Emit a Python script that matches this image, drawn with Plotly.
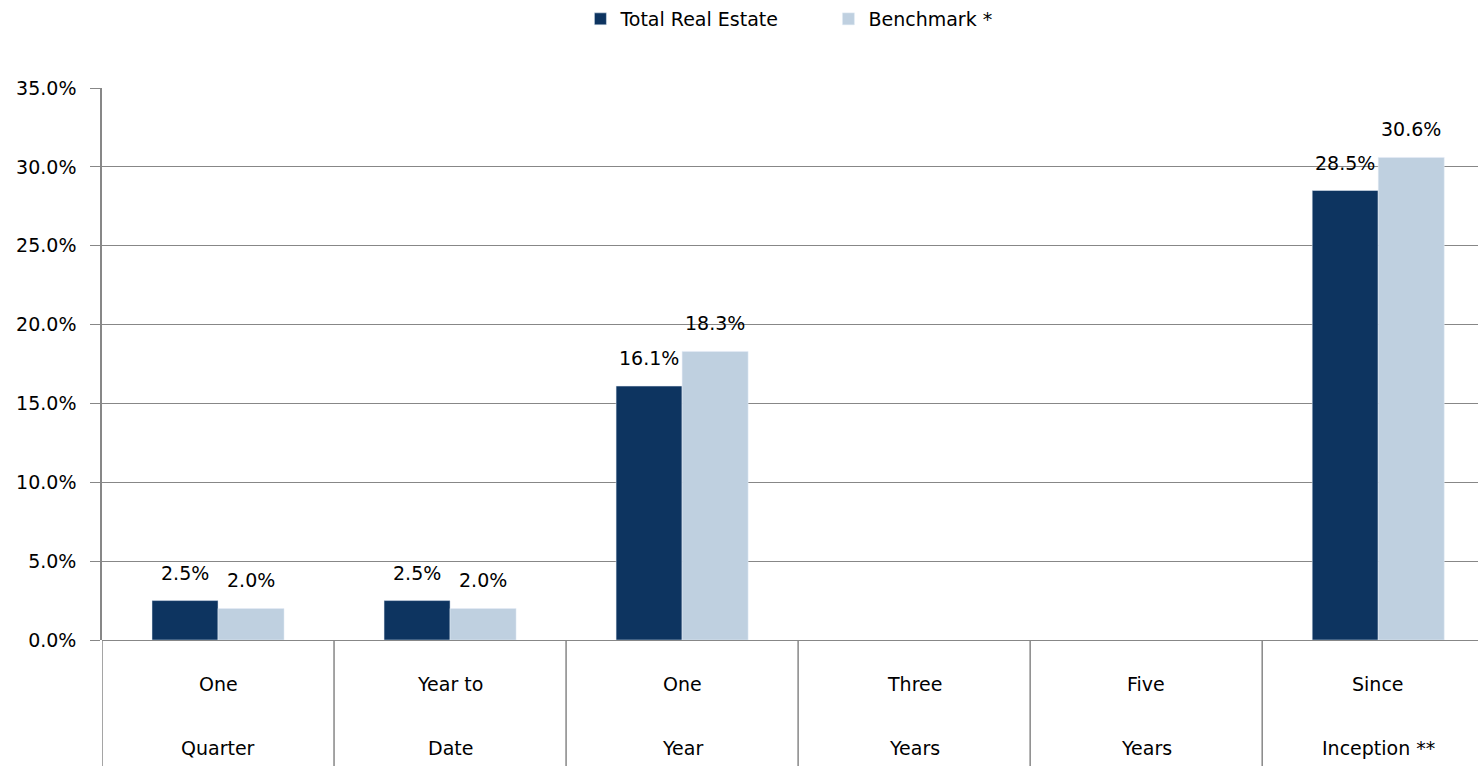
import plotly.graph_objects as go

categories = ["One<br>Quarter", "Year to<br>Date", "One<br>Year", "Three<br>Years", "Five<br>Years", "Since<br>Inception **"]
total_real_estate = [2.5, 2.5, 16.1, None, None, 28.5]
benchmark = [2.0, 2.0, 18.3, None, None, 30.6]
series_names = ["Total Real Estate", "Benchmark *"]
y_ticks = [0, 5, 10, 15, 20, 25, 30, 35]

DARK = "#0D3460"
LIGHT = "#BFD0E0"
GRID = "#878787"
FONT = "DejaVu Sans"
FS = 19

idx = list(range(len(categories)))

fig = go.Figure()
fig.add_trace(go.Bar(x=idx, y=total_real_estate, name=series_names[0], marker_color=DARK))
fig.add_trace(go.Bar(x=idx, y=benchmark, name=series_names[1], marker_color=LIGHT))

annotations = []
for vals, shift in ((total_real_estate, -33), (benchmark, 33)):
    for i, v in zip(idx, vals):
        if v is None:
            continue
        annotations.append(dict(x=i, y=v, xref="x", yref="y", text=f"{v:.1f}%",
                                showarrow=False, xshift=shift, yshift=28,
                                yanchor="middle", font=dict(size=FS, color="#000", family=FONT)))
for i, c in zip(idx, categories):
    l1, l2 = c.split("<br>")
    annotations.append(dict(x=i, y=-0.0797, xref="x", yref="paper", text=l1, showarrow=False,
                            yanchor="middle", font=dict(size=FS, color="#000", family=FONT)))
    annotations.append(dict(x=i, y=-0.1957, xref="x", yref="paper", text=l2, showarrow=False,
                            yanchor="middle", font=dict(size=FS, color="#000", family=FONT)))

shapes = []
for i in range(len(categories)):
    shapes.append(dict(type="line", xref="x", yref="paper", x0=i - 0.5, x1=i - 0.5,
                       y0=0, y1=-0.25, line=dict(color=GRID, width=1.5)))

fig.update_layout(
    width=1478, height=766,
    margin=dict(l=102, r=0, t=88, b=126, autoexpand=False),
    paper_bgcolor="white", plot_bgcolor="white",
    barmode="group", bargap=0.431, bargroupgap=0,
    font=dict(family=FONT, size=FS, color="#000"),
    legend=dict(orientation="h", xref="container", x=0.5605, xanchor="center",
                yref="container", y=1 - 19 / 766, yanchor="middle",
                font=dict(size=FS, family=FONT), itemwidth=30, traceorder="normal",
                entrywidth=203, entrywidthmode="pixels"),
    annotations=annotations, shapes=shapes,
    xaxis=dict(range=[-0.5, 5.43], tickvals=idx, showticklabels=False, showgrid=False,
               zeroline=False, showline=False, ticks="", automargin=False),
    yaxis=dict(range=[0, 35], tickvals=y_ticks, ticktext=[f"{t:.1f}%" for t in y_ticks],
               showgrid=True, gridcolor=GRID, gridwidth=1.4, zeroline=True, zerolinecolor=GRID,
               zerolinewidth=1.4, showline=True, linecolor=GRID, linewidth=1.5,
               ticks="outside", ticklen=10, tickcolor=GRID, tickwidth=1.4, automargin=False,
               ticklabelstandoff=10, tickfont=dict(size=FS, family=FONT)),
)

fig.write_html("out.html", config={"displayModeBar": False},
               post_script="document.body.style.margin='0';document.body.style.overflow='hidden';")
